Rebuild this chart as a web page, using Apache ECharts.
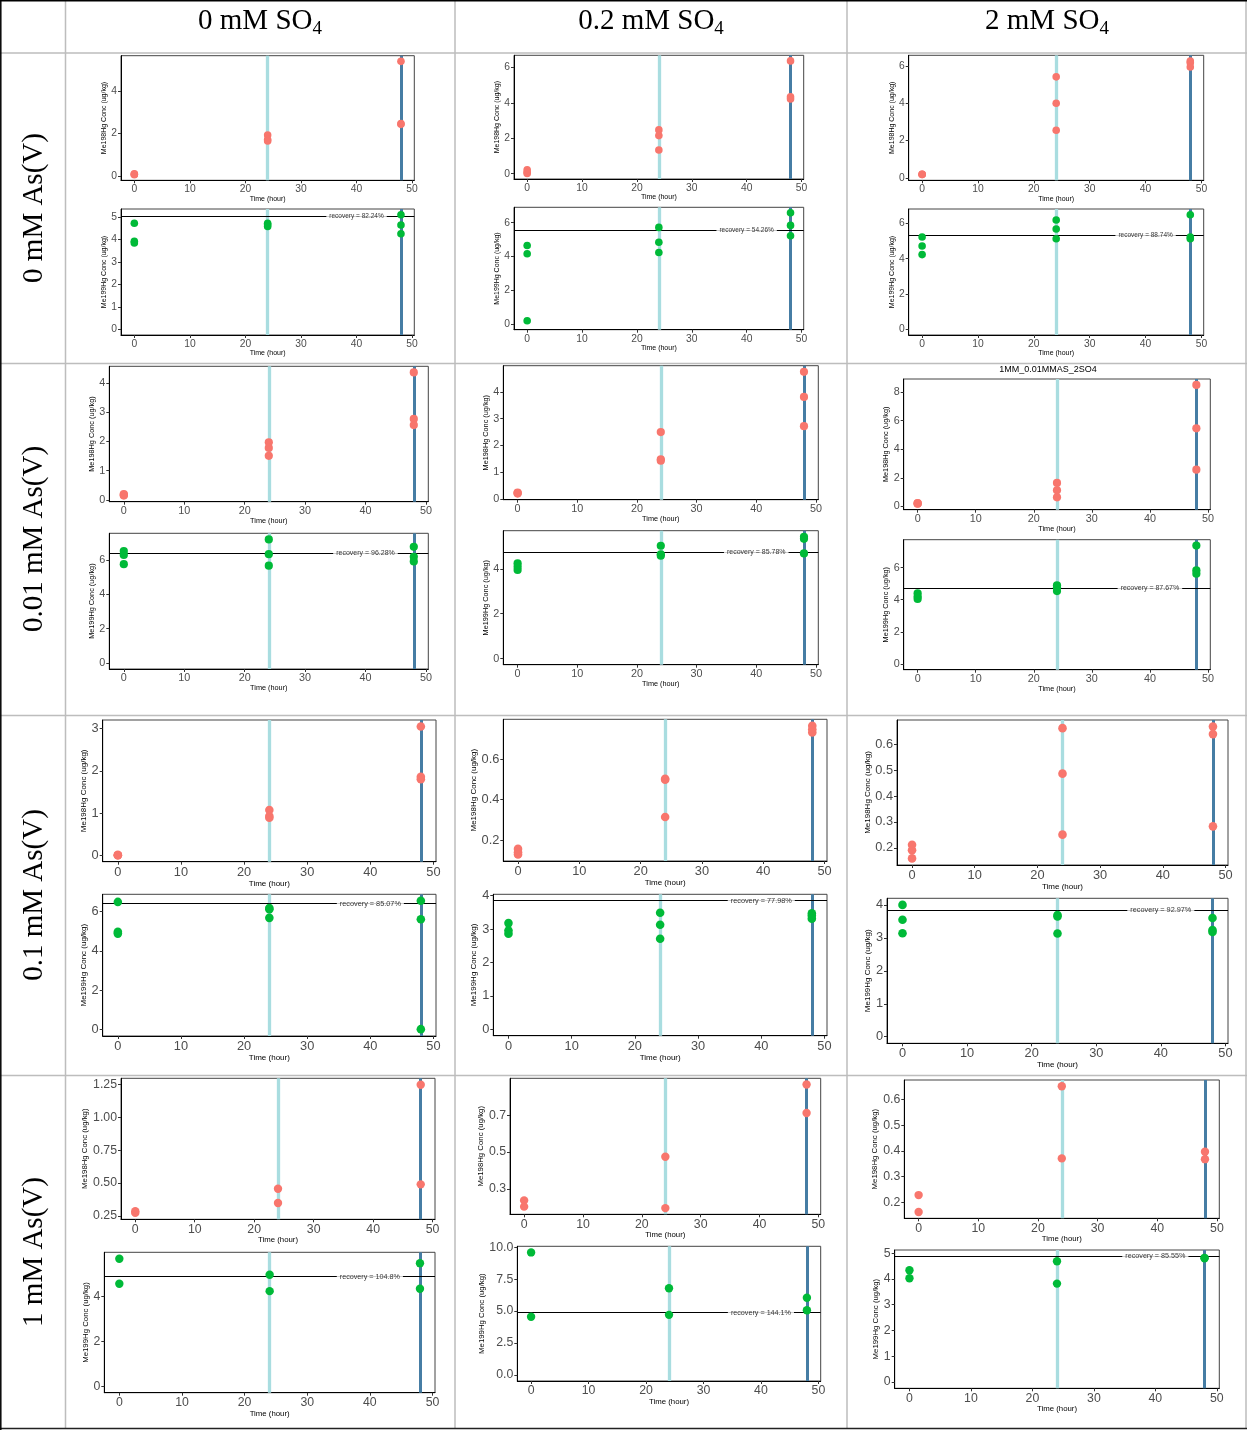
<!DOCTYPE html>
<html>
<head>
<meta charset="utf-8">
<script src="https://cdn.jsdelivr.net/npm/echarts@6/dist/echarts.min.js"></script>
<style>
  html, body { margin: 0; padding: 0; background: #fff; }
  #chart { width: 1247px; height: 1430px; }
</style>
</head>
<body>
<div id="chart"></div>
<script>
// ---- data ---------------------------------------------------------------
// Column headers (each followed by a subscript "4") and row headers
const sulfateLevels = ['0 mM SO', '0.2 mM SO', '2 mM SO'];
const arsenateLevels = ['0 mM As(V)', '0.01 mM As(V)', '0.1 mM As(V)', '1 mM As(V)'];

// Sampling times (hours)
const sampleHours = [0, 24, 48];
const timeTicks = ['0', '10', '20', '30', '40', '50'];

// Me198Hg replicates per panel (row-major: As level x SO4 level), grouped by time point
const me198 = [
  [[0.08, 0.10, 0.06], [1.93, 1.72, 1.65], [5.42, 2.48, 2.44]],
  [[0.22, 0.08, 0.02], [2.47, 2.15, 1.34], [6.36, 4.34, 4.21]],
  [[0.20, 0.18, 0.20], [5.41, 4.00, 2.55], [6.26, 6.17, 5.94]],
  [[0.20, 0.17, 0.15], [1.97, 1.78, 1.51], [4.36, 2.77, 2.56]],
  [[0.24, 0.22, 0.20], [2.50, 1.48, 1.43], [4.75, 3.81, 2.72]],
  [[0.20, 0.18, 0.22], [1.64, 1.12, 0.63], [8.51, 5.47, 2.57]],
  [[0.00, 0.01, 0.00], [1.07, 0.93, 0.89], [3.05, 1.86, 1.80]],
  [[0.156, 0.139, 0.128], [0.503, 0.498, 0.314], [0.765, 0.748, 0.732]],
  [[0.212, 0.191, 0.159], [0.663, 0.487, 0.251], [0.669, 0.640, 0.283]],
  [[0.285, 0.273], [0.457, 0.348], [1.248, 0.490]],
  [[0.237, 0.203], [0.475, 0.195], [0.868, 0.713]],
  [[0.228, 0.162], [0.652, 0.371], [0.397, 0.368]]
];

// Me199Hg replicates per panel, grouped by time point
const me199 = [
  [[4.72, 3.92, 3.84], [4.72, 4.65, 4.58], [5.10, 4.64, 4.25]],
  [[4.65, 4.16, 0.20], [5.72, 4.84, 4.24], [6.58, 5.84, 5.23]],
  [[5.23, 4.72, 4.23], [6.19, 5.68, 5.13], [6.49, 5.23, 5.13]],
  [[6.52, 6.30, 5.76], [7.20, 6.34, 5.67], [6.77, 6.19, 5.92]],
  [[4.25, 4.10, 3.95], [5.03, 4.65, 4.59], [5.43, 5.34, 4.69]],
  [[4.40, 4.20, 4.05], [4.90, 4.78, 4.54], [7.38, 5.84, 5.63]],
  [[6.49, 4.97, 4.88], [6.18, 6.12, 5.68], [6.55, 5.61, 0.02]],
  [[3.18, 2.96, 2.86], [3.49, 3.13, 2.71], [3.47, 3.40, 3.31]],
  [[4.00, 3.55, 3.14], [3.69, 3.65, 3.13], [3.60, 3.24, 3.18]],
  [[5.70, 4.58], [4.98, 4.25], [5.50, 4.36]],
  [[9.59, 4.55], [6.79, 4.70], [6.04, 5.06]],
  [[4.34, 4.03], [4.69, 3.82], [4.82, 4.80]]
];

// Spiked Me199Hg reference level and its recovery
const spikeLevel = [5.03, 5.53, 5.32, 6.40, 4.75, 4.74, 6.40, 3.85, 3.84, 4.90, 4.88, 4.88];
const recovery = ['82.24%', '54.26%', '88.74%', '96.28%', '85.78%', '87.67%',
                  '85.07%', '77.98%', '92.97%', '104.8%', '144.1%', '85.55%'];

// y-axis tick labels
const me198Ticks = [
  ['0', '2', '4'], ['0', '2', '4', '6'], ['0', '2', '4', '6'],
  ['0', '1', '2', '3', '4'], ['0', '1', '2', '3', '4'], ['0', '2', '4', '6', '8'],
  ['0', '1', '2', '3'], ['0.2', '0.4', '0.6'], ['0.2', '0.3', '0.4', '0.5', '0.6'],
  ['0.25', '0.50', '0.75', '1.00', '1.25'], ['0.3', '0.5', '0.7'], ['0.2', '0.3', '0.4', '0.5', '0.6']
];
const me199Ticks = [
  ['0', '1', '2', '3', '4', '5'], ['0', '2', '4', '6'], ['0', '2', '4', '6'],
  ['0', '2', '4', '6'], ['0', '2', '4'], ['0', '2', '4', '6'],
  ['0', '2', '4', '6'], ['0', '1', '2', '3', '4'], ['0', '1', '2', '3', '4'],
  ['0', '2', '4'], ['0.0', '2.5', '5.0', '7.5', '10.0'], ['0', '1', '2', '3', '4', '5']
];

const panelTitles = { 5: '1MM_0.01MMAS_2SO4' };

// ---- layout ---------------------------------------------------------------
// plot rectangles [left, top, right, bottom] and y-title distance from the axis
const LAYOUT = [
  { red: [121, 55.7, 414.3, 180.3],   green: [121, 209, 414.3, 335],      yd: [15.3, 15.3] },
  { red: [514, 55.3, 803.7, 179],     green: [514, 207.3, 803.7, 329.7],  yd: [15.7, 13] },
  { red: [908.7, 55.3, 1203.7, 180.3], green: [908.7, 209, 1203.7, 335],  yd: [15, 15] },
  { red: [109.3, 366.3, 428.3, 501.7], green: [109.3, 533.3, 428.3, 669], yd: [15, 15] },
  { red: [503.3, 365.7, 818.3, 499.7], green: [503.3, 530.7, 818.3, 664.7], yd: [16, 16] },
  { red: [903.7, 379, 1210.3, 509.7], green: [903.7, 539.7, 1210.3, 669.7], yd: [15.7, 15.7] },
  { red: [102.7, 720, 436, 861.7],    green: [102.7, 894.3, 436, 1036],   yd: [16, 16] },
  { red: [503.3, 719.3, 827, 861],    green: [493.3, 894.3, 827, 1035.7], yd: [26.3, 16] },
  { red: [897, 720, 1228, 865],       green: [887, 898.3, 1228, 1043.3],  yd: [26.7, 16.7] },
  { red: [121, 1078.3, 435, 1219.3],  green: [104.3, 1252.3, 435, 1392.7], yd: [33.3, 16.6] },
  { red: [510, 1078.3, 820.7, 1214.3], green: [517.3, 1246.3, 820.7, 1381], yd: [25, 32.3] },
  { red: [904.3, 1080, 1219.3, 1218.3], green: [894.7, 1250, 1219.3, 1388.3], yd: [25.6, 16] }
];
const ROW_STYLE = [
  { tick: 10.3, title: 7,   note: 6.5, xGap: 14, dot: 7.6 },
  { tick: 10.8, title: 7.3, note: 7,   xGap: 15, dot: 8.2 },
  { tick: 12.8, title: 8,   note: 7.3, xGap: 16, dot: 8.6 },
  { tick: 12.3, title: 7.8, note: 7.2, xGap: 16, dot: 8.4 }
];
const SANS = 'Liberation Sans, Arial, Helvetica, sans-serif';
const SERIF = 'Liberation Serif, Times New Roman, serif';
const RED = '#F8766D', GREEN = '#00BA38';
const EARLY_LINE = '#A9DDE0', LATE_LINE = '#467DA4';

// ---- build ---------------------------------------------------------------
const grids = [], xAxes = [], yAxes = [], series = [];

function toPoints(groups) {
  const pts = [];
  groups.forEach((reps, i) => reps.forEach(v => pts.push([sampleHours[i], v])));
  return pts;
}
function labelLookup(labels) {
  return function (v) {
    let best = labels[0], bd = Infinity;
    labels.forEach(s => { const d = Math.abs(Number(s) - v); if (d < bd) { bd = d; best = s; } });
    return best;
  };
}

function addPanel(rect, groups, ticks, yName, color, nameDist, st, spike, note) {
  const idx = grids.length;
  grids.push({
    left: rect[0], top: rect[1], width: rect[2] - rect[0], height: rect[3] - rect[1],
    show: true, borderColor: '#444', borderWidth: 1, backgroundColor: '#fff'
  });
  const flat = groups.flat();
  let lo, hi;
  if (spike == null) { lo = Math.min(...flat); hi = Math.max(...flat); }
  else { lo = 0; hi = Math.max(...flat, spike); }
  const pad = (hi - lo) * 0.05;
  const tLo = sampleHours[0], tHi = sampleHours[sampleHours.length - 1];
  const tPad = (tHi - tLo) * 0.05;
  const xVals = timeTicks.map(Number);
  const yVals = ticks.map(Number);

  xAxes.push({
    gridIndex: idx, type: 'value', min: tLo - tPad, max: tHi + tPad,
    axisLine: { show: true, onZero: false, lineStyle: { color: '#000', width: 1 } },
    axisTick: { show: true, length: 3, customValues: xVals, lineStyle: { color: '#333' } },
    axisLabel: { show: true, customValues: xVals, margin: 4, fontSize: st.tick, color: '#4D4D4D', fontFamily: SANS },
    splitLine: { show: false },
    name: 'Time (hour)', nameLocation: 'middle', nameGap: st.xGap,
    nameTextStyle: { fontSize: st.title, color: '#000', fontFamily: SANS }
  });
  yAxes.push({
    gridIndex: idx, type: 'value', min: lo - pad, max: hi + pad,
    axisLine: { show: true, onZero: false, lineStyle: { color: '#000', width: 1 } },
    axisTick: { show: true, length: 3, customValues: yVals, lineStyle: { color: '#333' } },
    axisLabel: { show: true, customValues: yVals, margin: 4, fontSize: st.tick, color: '#4D4D4D',
                 fontFamily: SANS, formatter: labelLookup(ticks) },
    splitLine: { show: false },
    name: yName, nameLocation: 'middle', nameGap: nameDist - st.title * 0.6,
    nameTextStyle: { fontSize: st.title, color: '#000', fontFamily: SANS }
  });

  const refLines = [
    { xAxis: sampleHours[1], lineStyle: { color: EARLY_LINE, width: 3.3, type: 'solid' } },
    { xAxis: sampleHours[2], lineStyle: { color: LATE_LINE, width: 3, type: 'solid' } }
  ];
  if (spike != null) refLines.push({ yAxis: spike, lineStyle: { color: '#000', width: 1, type: 'solid' } });
  series.push({
    type: 'scatter', xAxisIndex: idx, yAxisIndex: idx, data: [], silent: true, z: 1,
    markLine: { silent: true, z: 1, symbol: ['none', 'none'], label: { show: false },
                emphasis: { disabled: true }, animation: false, data: refLines }
  });
  series.push({
    type: 'scatter', xAxisIndex: idx, yAxisIndex: idx, data: toPoints(groups),
    symbol: 'circle', symbolSize: st.dot, itemStyle: { color: color, opacity: 1 }, z: 10, silent: true
  });
  if (spike != null) {
    series.push({
      type: 'scatter', xAxisIndex: idx, yAxisIndex: idx, data: [[40, spike]],
      symbolSize: 0, z: 12, silent: true,
      label: { show: true, position: 'inside', formatter: 'recovery = ' + note,
               fontSize: st.note, color: '#000', fontFamily: SANS,
               backgroundColor: '#fff', padding: [1, 3] }
    });
  }
}

for (let p = 0; p < 12; p++) {
  const row = Math.floor(p / 3);
  const st = ROW_STYLE[row];
  const L = LAYOUT[p];
  addPanel(L.red, me198[p], me198Ticks[p], 'Me198Hg Conc (ug/kg)', RED, L.yd[0], st, null, null);
  addPanel(L.green, me199[p], me199Ticks[p], 'Me199Hg Conc (ug/kg)', GREEN, L.yd[1], st, spikeLevel[p], recovery[p]);
}

// ---- table frame and headers ---------------------------------------------
const GRAY = '#BDBDBD';
const graphics = [];
function hLine(y, x1, x2, stroke, w) {
  graphics.push({ type: 'line', silent: true, z: 0, shape: { x1: x1, y1: y, x2: x2, y2: y }, style: { stroke: stroke, lineWidth: w } });
}
function vLine(x, y1, y2, stroke, w) {
  graphics.push({ type: 'line', silent: true, z: 0, shape: { x1: x, y1: y1, x2: x, y2: y2 }, style: { stroke: stroke, lineWidth: w } });
}
[53, 363.5, 715.5, 1075.5].forEach(y => hLine(y, 0, 1247, GRAY, 1.5));
[65.5, 455, 847, 1246].forEach(x => vLine(x, 0, 1429, GRAY, 1.5));
hLine(0.8, 0, 1247, '#000', 1.5);
hLine(1428.5, 0, 1247, '#222', 1.5);
vLine(0.8, 0, 1430, '#000', 1.5);

const colCenters = [260, 651, 1047];
sulfateLevels.forEach((t, i) => {
  graphics.push({
    type: 'text', silent: true, x: colCenters[i], y: 21,
    style: {
      text: '{m|' + t + '}{s|4}', align: 'center', verticalAlign: 'middle',
      rich: {
        m: { fontFamily: SERIF, fontSize: 29, lineHeight: 32, fill: '#000' },
        s: { fontFamily: SERIF, fontSize: 19, lineHeight: 20, padding: [16, 0, 0, 0], fill: '#000' }
      }
    }
  });
});
const rowCenters = [208, 539, 895, 1252];
arsenateLevels.forEach((t, i) => {
  graphics.push({
    type: 'text', silent: true, x: 34, y: rowCenters[i], rotation: Math.PI / 2,
    style: { text: t, align: 'center', verticalAlign: 'middle', font: '29px ' + SERIF, fill: '#000' }
  });
});
Object.keys(panelTitles).forEach(k => {
  const L = LAYOUT[k];
  graphics.push({
    type: 'text', silent: true, x: 1048, y: L.red[1] - 9,
    style: { text: panelTitles[k], align: 'center', verticalAlign: 'middle', font: '9px ' + SANS, fill: '#000' }
  });
});

const chart = echarts.init(document.getElementById('chart'), null, { renderer: 'canvas' });
chart.setOption({
  animation: false,
  backgroundColor: '#fff',
  grid: grids,
  xAxis: xAxes,
  yAxis: yAxes,
  series: series,
  graphic: graphics
});
</script>
</body>
</html>
